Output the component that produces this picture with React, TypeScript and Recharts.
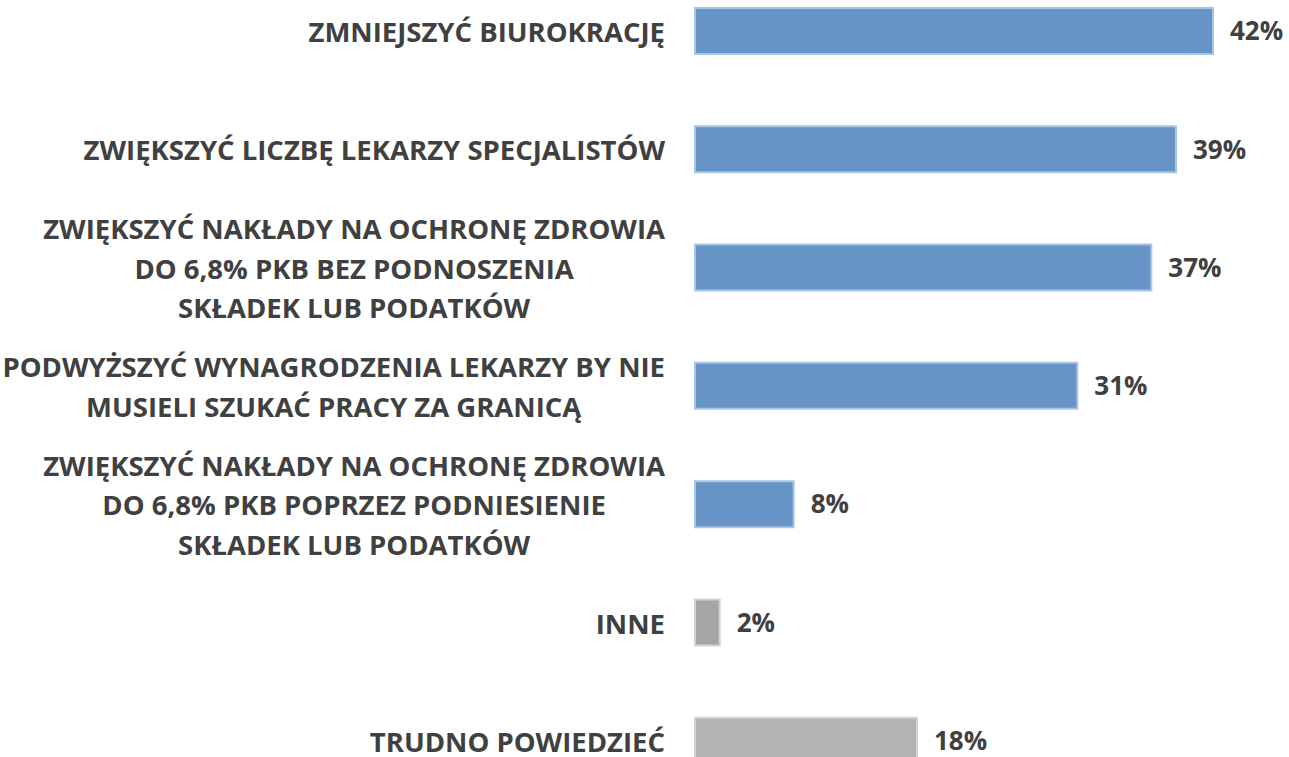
import React from 'react';
import { BarChart, Bar, XAxis, YAxis, Cell, LabelList } from 'recharts';

const categories = [
    'ZMNIEJSZYĆ BIUROKRACJĘ',
    'ZWIĘKSZYĆ LICZBĘ LEKARZY SPECJALISTÓW',
    'ZWIĘKSZYĆ NAKŁADY NA OCHRONĘ ZDROWIA\nDO 6,8% PKB BEZ PODNOSZENIA\nSKŁADEK LUB PODATKÓW',
    'PODWYŻSZYĆ WYNAGRODZENIA LEKARZY BY NIE\nMUSIELI SZUKAĆ PRACY ZA GRANICĄ',
    'ZWIĘKSZYĆ NAKŁADY NA OCHRONĘ ZDROWIA\nDO 6,8% PKB POPRZEZ PODNIESIENIE\nSKŁADEK LUB PODATKÓW',
    'INNE',
    'TRUDNO POWIEDZIEĆ',
];
const values = [42, 39, 37, 31, 8, 2, 18];
const fills = ['#6794C7', '#6794C7', '#6794C7', '#6794C7', '#6794C7', '#A5A5A5', '#B3B3B3'];
const strokes = ['#A9C4E4', '#A9C4E4', '#A9C4E4', '#A9C4E4', '#A9C4E4', '#D3D3D3', '#D3D3D3'];

const data = categories.map((name, i) => ({ name, value: values[i] }));

const FONT = "'Open Sans', sans-serif";
const FONT_SIZE = 27.5;
const TEXT = '#404040';

let ctx: CanvasRenderingContext2D | null = null;
function measure(s: string) {
    if (!ctx) ctx = document.createElement('canvas').getContext('2d');
    if (!ctx) return s.length * 16;
    ctx.font = `700 ${FONT_SIZE}px ${FONT}`;
    return ctx.measureText(s).width;
}

// multi-line label, lines centred on each other, widest line ends at the axis
const CategoryTick = (props: any) => {
    const { x, y, payload } = props;
    const lines: string[] = String(payload.value).split('\n');
    const maxW = Math.max(...lines.map(measure));
    const cx = x - maxW / 2;
    const lh = 39.5;
    const startY = y - ((lines.length - 1) * lh) / 2;
    return (
        <text x={cx} y={startY} textAnchor="middle" dominantBaseline="central"
            fill={TEXT} fontFamily={FONT} fontWeight={700} fontSize={FONT_SIZE}>
            {lines.map((l, i) => (
                <tspan key={i} x={cx} y={startY + i * lh}>{l}</tspan>
            ))}
        </text>
    );
};

export default function App() {
    return (
        <div style={{ position: 'absolute', left: 0, top: 0, width: 1289, height: 757, overflow: 'hidden', background: '#fff' }}>
            <div style={{ marginTop: -28 }}>
                <BarChart
                    layout="vertical"
                    width={1289}
                    height={828}
                    data={data}
                    margin={{ top: 0, right: 39, left: 0, bottom: 0 }}
                >
                    <XAxis type="number" domain={[0, 45]} hide />
                    <YAxis
                        type="category"
                        dataKey="name"
                        width={695}
                        tickSize={0}
                        tickMargin={30}
                        axisLine={false}
                        tickLine={false}
                        interval={0}
                        tick={<CategoryTick />}
                    />
                    <Bar dataKey="value" barSize={46} strokeWidth={2} isAnimationActive={false}>
                        {data.map((d, i) => (
                            <Cell key={`cell-${i}`} fill={fills[i]} stroke={strokes[i]} />
                        ))}
                        <LabelList
                            dataKey="value"
                            position="right"
                            offset={17}
                            formatter={(v: any) => `${v}%`}
                            style={{ fill: TEXT, fontFamily: FONT, fontWeight: 700, fontSize: 26 }}
                        />
                    </Bar>
                </BarChart>
            </div>
        </div>
    );
}
